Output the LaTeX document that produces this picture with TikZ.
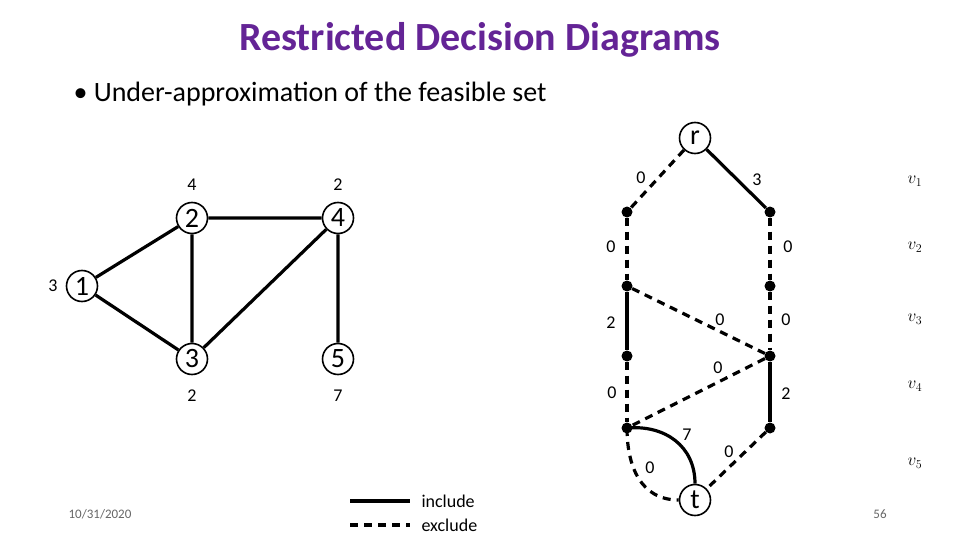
\documentclass[tikz,border=0pt]{standalone}
\usepackage{fontspec}
\setmainfont{Carlito}
\definecolor{ttl}{RGB}{100,36,150}
\begin{document}
\begin{tikzpicture}[x=1pt,y=-1pt,
 gn/.style={circle,draw,line width=1.6pt,minimum size=31pt,inner sep=0pt,font=\fontsize{28}{28}\selectfont},
 dot/.style={circle,fill,inner sep=0pt,minimum size=11pt},
 inc/.style={line width=3.2pt},
 exc/.style={line width=3.2pt,dash pattern=on 8pt off 6pt},
 lb/.style={font=\fontsize{18}{18}\selectfont},
 vl/.style={font=\itshape\fontsize{18}{18}\selectfont}]
\useasboundingbox (0,0) rectangle (960,540);
\node[text=ttl,font=\bfseries\fontsize{40}{40}\selectfont] (title) at (480,40) {Restricted Decision Diagrams};
\node[anchor=west,font=\fontsize{28}{28}\selectfont] (b) at (70,94) {\textbullet\ Under-approximation of the feasible set};
% graph
\node[gn] (g1) at (82,286) {1};
\node[gn] (g2) at (192,218) {2};
\node[gn] (g3) at (192,359) {3};
\node[gn] (g4) at (338,218) {4};
\node[gn] (g5) at (338,359) {5};
\draw[inc] (g1)--(g2) (g1)--(g3) (g2)--(g3) (g2)--(g4) (g3)--(g4) (g4)--(g5);
\node[lb] (w1) at (53,286) {3};
\node[lb] (w2) at (192,185) {4};
\node[lb] (w4) at (338,185) {2};
\node[lb] (w3) at (192,396) {2};
\node[lb] (w5) at (338,396) {7};
% DD
\node[gn] (r) at (695,138) {r};
\node[gn] (t) at (695,500) {t};
\node[dot] (L1) at (627,212) {}; \node[dot] (R1) at (770,212) {};
\node[dot] (L2) at (627,286) {}; \node[dot] (R2) at (770,286) {};
\node[dot] (L3) at (627,356) {}; \node[dot] (R3) at (770,356) {};
\node[dot] (L4) at (627,428) {}; \node[dot] (R4) at (770,428) {};
\draw[exc] (r)--(L1);
\draw[inc] (r)--(R1);
\draw[exc] (L1)--(L2);
\draw[exc] (R1)--(R2);
\draw[inc] (L2)--(L3);
\draw[exc] (L2)--(R3);
\draw[exc] (R2)--(R3);
\draw[exc] (L3)--(L4);
\draw[exc] (R3)--(L4);
\draw[inc] (R3)--(R4);
\draw[inc] (L4.center) to[out=5,in=90,looseness=1.1] (t.north);
\draw[exc] (L4.center) to[out=-90,in=180,looseness=1.1] (t.west);
\draw[exc] (R4)--(t);
\node[lb] at (641,178) {0};
\node[lb] at (757,180) {3};
\node[lb] at (611,247) {0};
\node[lb] at (788,247) {0};
\node[lb] at (611,323) {2};
\node[lb] at (720,320) {0};
\node[lb] at (786,320) {0};
\node[lb] at (612,393) {0};
\node[lb] at (718,368) {0};
\node[lb] at (786,394) {2};
\node[lb] at (687,435) {7};
\node[lb] at (650,468) {0};
\node[lb] at (729,452) {0};
\node[vl] at (915,181) {$v_1$};
\node[vl] at (915,247) {$v_2$};
\node[vl] at (915,319) {$v_3$};
\node[vl] at (915,386) {$v_4$};
\node[vl] at (915,463) {$v_5$};
% legend
\coordinate (a1) at (350,501); \coordinate (a2) at (410,501);
\coordinate (b1) at (350,525); \coordinate (b2) at (410,525);
\draw[inc] (a1)--(a2);
\draw[exc] (b1)--(b2);
\node[lb,anchor=west] at (418,501) {include};
\node[lb,anchor=west] at (418,525) {exclude};
\node[font=\fontsize{13}{13}\selectfont,text=gray!80!black] at (100,514) {10/31/2020};
\node[font=\fontsize{13}{13}\selectfont,text=gray!80!black] at (880,514) {56};
\end{tikzpicture}
\end{document}
